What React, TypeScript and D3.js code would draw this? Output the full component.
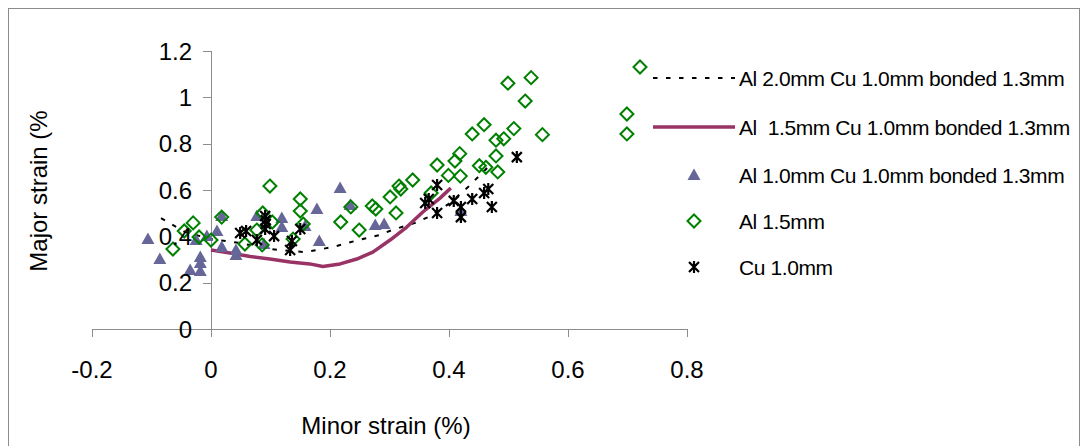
import React from "react";
import * as d3 from "d3";

const xTicks = [-0.2, 0, 0.2, 0.4, 0.6, 0.8];
const yTicks = [0, 0.2, 0.4, 0.6, 0.8, 1, 1.2];

const seriesNames = [
  "Al 2.0mm Cu 1.0mm bonded 1.3mm",
  "Al  1.5mm Cu 1.0mm bonded 1.3mm",
  "Al 1.0mm Cu 1.0mm bonded 1.3mm",
  "Al 1.5mm",
  "Cu 1.0mm",
];

// Al 2.0mm Cu 1.0mm bonded 1.3mm (dashed line)
const al20Line: [number, number][] = [
  [-0.084, 0.479], [-0.044, 0.419], [0, 0.388], [0.049, 0.371], [0.099, 0.345],
  [0.158, 0.332], [0.205, 0.354], [0.245, 0.382], [0.284, 0.406], [0.304, 0.427],
  [0.343, 0.458], [0.365, 0.483], [0.402, 0.544], [0.432, 0.613], [0.464, 0.695],
];

// Al 1.5mm Cu 1.0mm bonded 1.3mm (solid line)
const al15Line: [number, number][] = [
  [0, 0.341], [0.032, 0.328], [0.066, 0.313], [0.099, 0.302], [0.133, 0.289],
  [0.166, 0.281], [0.188, 0.27], [0.217, 0.281], [0.245, 0.302], [0.272, 0.332],
  [0.301, 0.384], [0.329, 0.44], [0.356, 0.505], [0.385, 0.565], [0.403, 0.609],
];

// Al 1.0mm Cu 1.0mm bonded 1.3mm (triangles)
const al10Points: [number, number][] = [
  [-0.106, 0.388], [-0.086, 0.302], [-0.035, 0.255], [-0.018, 0.311], [-0.018, 0.285],
  [-0.018, 0.25], [-0.025, 0.384], [-0.007, 0.401], [0.01, 0.423], [0.018, 0.354],
  [0.042, 0.341], [0.042, 0.319], [0.018, 0.488], [0.077, 0.488], [0.119, 0.479],
  [0.119, 0.44], [0.089, 0.367], [0.158, 0.445], [0.178, 0.518], [0.217, 0.609],
  [0.234, 0.535], [0.182, 0.38], [0.276, 0.449], [0.291, 0.453], [0.42, 0.509],
];

// Al 1.5mm (diamonds)
const al15Points: [number, number][] = [
  [-0.064, 0.345], [-0.045, 0.423], [-0.03, 0.458], [-0.02, 0.397], [0.0, 0.384],
  [0.018, 0.483], [0.057, 0.367], [0.077, 0.427], [0.087, 0.501], [0.103, 0.462],
  [0.086, 0.363], [0.099, 0.617], [0.15, 0.561], [0.15, 0.509], [0.155, 0.453],
  [0.138, 0.388], [0.218, 0.462], [0.235, 0.527], [0.249, 0.427], [0.271, 0.531],
  [0.277, 0.518], [0.301, 0.57], [0.311, 0.501], [0.316, 0.617], [0.319, 0.604],
  [0.339, 0.643], [0.37, 0.587], [0.38, 0.708], [0.399, 0.663], [0.41, 0.725],
  [0.419, 0.66], [0.418, 0.757], [0.451, 0.705], [0.462, 0.698], [0.482, 0.678],
  [0.479, 0.747], [0.479, 0.815], [0.492, 0.821], [0.439, 0.842], [0.459, 0.882],
  [0.509, 0.865], [0.557, 0.839], [0.499, 1.061], [0.538, 1.085], [0.528, 0.984],
  [0.699, 0.928], [0.699, 0.842], [0.721, 1.131],
];

// Cu 1.0mm (stars)
const cuPoints: [number, number][] = [
  [0.049, 0.414], [0.059, 0.423], [0.091, 0.488], [0.092, 0.47], [0.092, 0.453],
  [0.091, 0.432], [0.077, 0.384], [0.106, 0.401], [0.15, 0.432], [0.136, 0.38],
  [0.133, 0.341], [0.36, 0.544], [0.366, 0.561], [0.38, 0.622], [0.38, 0.501],
  [0.408, 0.553], [0.42, 0.527], [0.42, 0.483], [0.439, 0.561], [0.459, 0.587],
  [0.466, 0.604], [0.472, 0.527], [0.514, 0.742],
];

const FONT = "'Liberation Sans', Arial, sans-serif";
const AXIS = "#8c8c8c";
const PLUM = "#993366";
const TRI = "#666699";
const GREEN = "#008000";

const Triangle = ({ cx, cy }: { cx: number; cy: number }) => (
  <path d={`M${cx},${cy - 6.5}L${cx + 6.5},${cy + 5}L${cx - 6.5},${cy + 5}Z`} fill={TRI} />
);
const Diamond = ({ cx, cy }: { cx: number; cy: number }) => (
  <path
    d={`M${cx},${cy - 6.5}L${cx + 6.5},${cy}L${cx},${cy + 6.5}L${cx - 6.5},${cy}Z`}
    fill="none"
    stroke={GREEN}
    strokeWidth={2}
  />
);
const Star = ({ cx, cy }: { cx: number; cy: number }) => (
  <path
    d={`M${cx - 5},${cy - 5}L${cx + 5},${cy + 5}M${cx + 5},${cy - 5}L${cx - 5},${cy + 5}M${cx},${cy - 6}L${cx},${cy + 6}`}
    stroke="#000"
    strokeWidth={2.2}
    fill="none"
  />
);

export default function App() {
  const x = d3.scaleLinear().domain([-0.2, 0.8]).range([92, 687]);
  const y = d3.scaleLinear().domain([0, 1.2]).range([329, 51]);
  const line = d3
    .line<[number, number]>()
    .x((d) => x(d[0]))
    .y((d) => y(d[1]));

  const legendY = [78, 127, 175, 221, 267];
  const lx0 = 653;
  const lx1 = 735;
  const lmx = 694;
  const ltx = 739;

  return (
    <svg
      width={1084}
      height={446}
      style={{ position: "absolute", left: 0, top: 0, background: "#fff" }}
    >
      <rect x={0} y={0} width={1084} height={446} fill="#fff" />
      <rect x={8.5} y={8.5} width={1071} height={460} fill="none" stroke="#8c8c8c" strokeWidth={1} />

      {/* axes */}
      <line x1={x(-0.2)} x2={x(0.8)} y1={y(0) + 0.5} y2={y(0) + 0.5} stroke={AXIS} />
      <line x1={x(0) + 0.5} x2={x(0) + 0.5} y1={y(1.2)} y2={y(0)} stroke={AXIS} />
      {xTicks.map((t) => (
        <line
          key={"xt" + t}
          x1={Math.round(x(t)) + 0.5}
          x2={Math.round(x(t)) + 0.5}
          y1={y(0)}
          y2={y(0) + 8}
          stroke={AXIS}
        />
      ))}
      {yTicks.map((t) => (
        <line
          key={"yt" + t}
          x1={x(0) - 8}
          x2={x(0)}
          y1={Math.round(y(t)) + 0.5}
          y2={Math.round(y(t)) + 0.5}
          stroke={AXIS}
        />
      ))}

      {/* series */}
      <path d={line(al20Line) || ""} fill="none" stroke="#000" strokeWidth={2} strokeDasharray="4.5 8.5" />
      <path d={line(al15Line) || ""} fill="none" stroke={PLUM} strokeWidth={3.5} strokeLinejoin="round" />
      {al10Points.map((d, i) => (
        <Triangle key={"t" + i} cx={x(d[0])} cy={y(d[1])} />
      ))}
      {al15Points.map((d, i) => (
        <Diamond key={"d" + i} cx={x(d[0])} cy={y(d[1])} />
      ))}
      {cuPoints.map((d, i) => (
        <Star key={"s" + i} cx={x(d[0])} cy={y(d[1])} />
      ))}

      {/* tick labels */}
      {yTicks.map((t) => (
        <text
          key={"yl" + t}
          x={192}
          y={y(t)}
          dy="0.36em"
          textAnchor="end"
          fontFamily={FONT}
          fontSize={24}
          fill="#000"
        >
          {d3.format("~g")(t)}
        </text>
      ))}
      {xTicks.map((t) => (
        <text
          key={"xl" + t}
          x={x(t)}
          y={378}
          textAnchor="middle"
          fontFamily={FONT}
          fontSize={24}
          fill="#000"
        >
          {t < 0 ? "-" + d3.format("~g")(-t) : d3.format("~g")(t)}
        </text>
      ))}

      {/* axis titles */}
      <text x={386} y={434} textAnchor="middle" fontFamily={FONT} fontSize={24} fill="#000">
        Minor strain (%)
      </text>
      <text
        transform={`translate(47,191) rotate(-90)`}
        textAnchor="middle"
        fontFamily={FONT}
        fontSize={24}
        fill="#000"
      >
        Major strain (%
      </text>

      {/* legend */}
      <line x1={lx0} x2={lx1} y1={legendY[0]} y2={legendY[0]} stroke="#000" strokeWidth={2} strokeDasharray="4.5 8.5" />
      <line x1={lx0} x2={lx1} y1={legendY[1]} y2={legendY[1]} stroke={PLUM} strokeWidth={3.5} />
      <Triangle cx={lmx} cy={legendY[2]} />
      <Diamond cx={lmx} cy={legendY[3]} />
      <Star cx={lmx} cy={legendY[4]} />
      {seriesNames.map((n, i) => (
        <text
          key={"ln" + i}
          x={ltx}
          y={legendY[i]}
          dy="0.36em"
          fontFamily={FONT}
          fontSize={21}
          letterSpacing={-0.4}
          fill="#000"
          style={{ whiteSpace: "pre" }}
        >
          {n}
        </text>
      ))}
    </svg>
  );
}
